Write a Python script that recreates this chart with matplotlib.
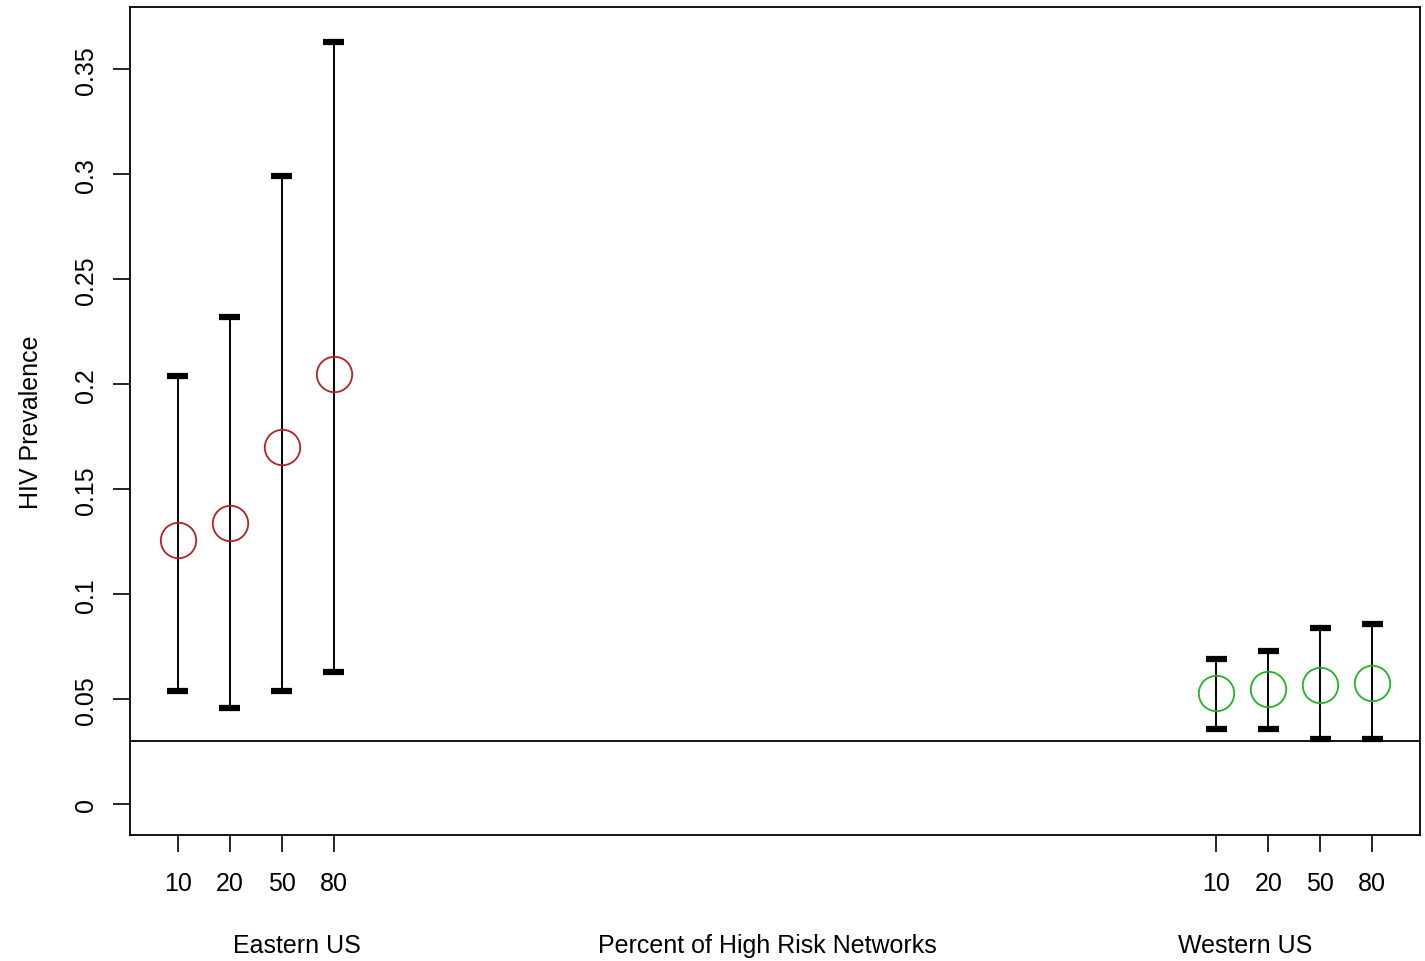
import matplotlib
matplotlib.use("Agg")
import matplotlib.pyplot as plt

plt.rcParams['font.family'] = ['Liberation Sans', 'DejaVu Sans']

tick_labels = ["10", "20", "50", "80"]
east_x = [1, 2, 3, 4]
west_x = [21, 22, 23, 24]
east_mean = [0.126, 0.134, 0.170, 0.205]
east_upper = [0.204, 0.232, 0.299, 0.363]
east_lower = [0.054, 0.046, 0.054, 0.063]
west_mean = [0.053, 0.055, 0.057, 0.058]
west_upper = [0.069, 0.073, 0.084, 0.086]
west_lower = [0.036, 0.036, 0.031, 0.031]
ref_line = 0.03

fig = plt.figure(figsize=(14.25, 9.62), dpi=100)
ax = fig.add_axes([130/1425, 1-836/962, 1290/1425, 828/962])

for xs, m, lo, hi, col in [(east_x, east_mean, east_lower, east_upper, '#b22222'),
                           (west_x, west_mean, west_lower, west_upper, '#22b222')]:
    ax.vlines(xs, lo, hi, color='black', lw=1.4)
    ax.hlines(lo, [x-0.2 for x in xs], [x+0.2 for x in xs], color='black', lw=4.5)
    ax.hlines(hi, [x-0.2 for x in xs], [x+0.2 for x in xs], color='black', lw=4.5)
    ax.plot(xs, m, 'o', ms=25.5, mfc='none', mec=col, mew=1.3, ls='none', zorder=5)

ax.axhline(ref_line, color='black', lw=1.3)

ax.set_xlim(0.08, 24.92)
ax.set_ylim(-0.0146, 0.3796)
ax.set_yticks([0, 0.05, 0.1, 0.15, 0.2, 0.25, 0.3, 0.35])
ax.set_yticklabels(["0", "0.05", "0.1", "0.15", "0.2", "0.25", "0.3", "0.35"],
                   rotation=90, va='center', fontsize=18)
ax.set_xticks(east_x + west_x)
ax.set_xticklabels(tick_labels + tick_labels, fontsize=18)
ax.tick_params(axis='both', length=12, width=1.2, direction='out')
ax.tick_params(axis='x', pad=14)
ax.tick_params(axis='y', pad=11)
for s in ax.spines.values():
    s.set_linewidth(1.3)

ax.set_ylabel("HIV Prevalence", fontsize=18, labelpad=22)

fig.text(297/1425, 1-946/962, "Eastern US", ha='center', va='center', fontsize=18)
fig.text(767/1425, 1-946/962, "Percent of High Risk Networks", ha='center', va='center', fontsize=18)
fig.text(1245/1425, 1-946/962, "Western US", ha='center', va='center', fontsize=18)

fig.savefig("out.png", dpi=100)
